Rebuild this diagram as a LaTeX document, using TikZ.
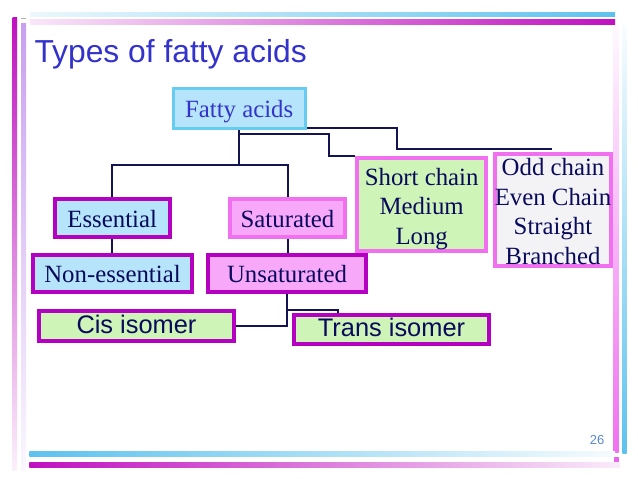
\documentclass[tikz,border=0pt]{standalone}
\usepackage{fontspec}
\setmainfont{Liberation Serif}
\setsansfont{Liberation Sans}
\definecolor{navy}{HTML}{0A0A5C}
\definecolor{conncol}{HTML}{141452}
\definecolor{titleblue}{HTML}{3333CC}
\definecolor{pagenum}{HTML}{5A88D0}
\definecolor{lblue}{HTML}{B6E4FA}
\definecolor{lblueb}{HTML}{66CCF2}
\definecolor{purp}{HTML}{B400C0}
\definecolor{pinkf}{HTML}{F8A8F8}
\definecolor{pinkb}{HTML}{F070F0}
\definecolor{lgreen}{HTML}{CEF4B8}
\definecolor{lgrey}{HTML}{F3F3F6}
\definecolor{barblue}{HTML}{5EC2EE}
\definecolor{barmag}{HTML}{C010C0}
\definecolor{barpurp}{HTML}{C8A0F0}
\pgfdeclarelayer{bg}
\pgfdeclarelayer{background}
\pgfsetlayers{bg,background,main}
\tikzset{
  box/.style={draw, line width=4pt, inner sep=2pt, text=navy,
    font=\fontsize{24.8}{29.5}\selectfont},
  oneline/.style={text height=18pt, text depth=0pt},
  sansbox/.style={font=\sffamily\fontsize{25.4}{30}\selectfont, text height=14pt, text depth=0pt},
  multi/.style={align=center},
  conn/.style={draw=conncol, line width=2pt}
}
\begin{document}
\begin{tikzpicture}[x=1pt,y=-1pt]
\useasboundingbox (0,0) rectangle (638,479);
\begin{pgfonlayer}{bg}
\fill[white] (0,0) rectangle (638,479);
% top bars
\shade[left color=barblue!12, right color=barblue] (30,12) rectangle (615,16.7);
\shade[left color=barmag!10, right color=barmag] (30,19.3) rectangle (615,24);
% left bars
\shade[top color=barmag, bottom color=barmag!6] (12.5,17) rectangle (17,470);
\shade[top color=barpurp, bottom color=barpurp!8] (21,23.5) rectangle (26,470);
\draw[gray!60, line width=0.8pt] (21,18.3) -- (26,18.3);
% right bars
\shade[top color=pinkb!4, bottom color=pinkb] (613.5,25) rectangle (618.5,452);
\shade[top color=barblue!4, bottom color=barblue] (622.5,25) rectangle (626.5,453);
\fill[pinkb!90!purp] (613.5,457) rectangle (618.5,462);
% bottom bars
\shade[left color=barblue, right color=barblue!6] (29.3,451.8) rectangle (615,456.7);
\shade[left color=barmag, right color=barmag!8] (29.3,462.5) rectangle (620,467.6);
\end{pgfonlayer}

\node[anchor=base west, inner sep=0pt, text=titleblue,
  font=\sffamily\fontsize{31.8}{36}\selectfont] (title) at (34.3,62.1) {Types of fatty acids};
\node[anchor=base east, inner sep=0pt, text=pagenum,
  font=\sffamily\fontsize{13}{15}\selectfont] (pnum) at (604.5,444.3) {26};

\node[box, oneline, line width=3pt, draw=lblueb, fill=lblue, text=titleblue,
  minimum width=132pt, minimum height=39.7pt] (fatty) at (239.2,108.7) {Fatty acids};
\node[box, oneline, draw=purp, fill=lblue,
  minimum width=115pt, minimum height=38pt] (essential) at (112.2,218.3) {Essential};
\node[box, oneline, draw=pinkb, fill=pinkf,
  minimum width=114.4pt, minimum height=38pt] (saturated) at (287.5,218.3) {Saturated};
\node[box, oneline, draw=purp, fill=lblue,
  minimum width=159pt, minimum height=36.7pt] (nonessential) at (112.5,273.7) {Non-essential};
\node[box, oneline, draw=purp, fill=pinkf,
  minimum width=158.6pt, minimum height=36.7pt] (unsaturated) at (287,273.7) {Unsaturated};
\node[box, multi, draw=pinkb, fill=lgreen,
  minimum width=129.3pt, minimum height=88.4pt] (short) at (421.7,204.5)
  {\rule{0pt}{25.4pt}Short chain\\Medium\\Long};
\node[box, multi, draw=pinkb, fill=lgrey, inner xsep=0pt,
  minimum width=116.6pt, minimum height=110.6pt] (odd) at (553,210)
  {\rule{0pt}{20pt}Odd chain\\Even Chain\\Straight\\Branched};
\node[box, sansbox, draw=purp, fill=lgreen,
  minimum width=194.4pt, minimum height=29.4pt] (cis) at (136.5,326) {Cis isomer};
\node[box, sansbox, draw=purp, fill=lgreen,
  minimum width=194.4pt, minimum height=29.3pt] (trans) at (391.5,329.3) {Trans isomer};

\coordinate (k1) at (396.7,149.3);
\coordinate (oddend) at (552.3,149.3);

\begin{pgfonlayer}{background}
\draw[conn] (fatty.south) -- ++(0,34.5) coordinate (hub);
\draw[conn] (essential.north) |- (hub) -| (saturated.north);
\draw[conn] ([yshift=1.85pt]fatty.south east) -| (k1) -- (oddend);
\draw[conn] ([yshift=-3.75pt]fatty.south) -| ([xshift=-26.3pt]short.north west) -- (short.north west);
\draw[conn] (essential.south) -- (essential.south |- nonessential.north);
\draw[conn] (saturated.south) -- (saturated.south |- unsaturated.north);
\draw[conn] (unsaturated.south) |- (cis.east);
\draw[conn] ([yshift=-16.3pt]unsaturated.south) -| ([xshift=-53.2pt]trans.north);
\end{pgfonlayer}
\end{tikzpicture}
\end{document}
